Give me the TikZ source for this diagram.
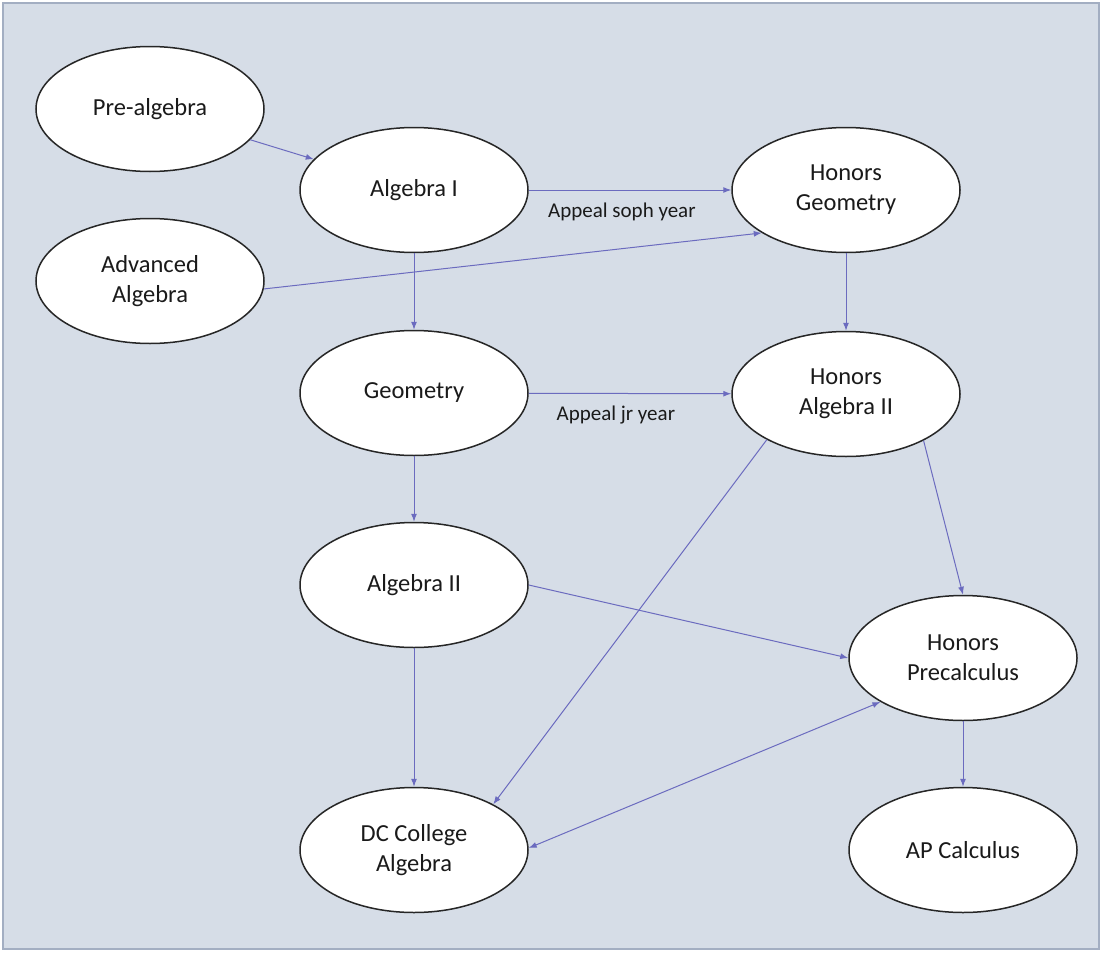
\documentclass[tikz,border=0pt]{standalone}
\usepackage{fontspec}
\setmainfont{Carlito}
\usetikzlibrary{shapes.geometric,arrows.meta}
\definecolor{bgc}{HTML}{D6DDE7}
\definecolor{framec}{HTML}{A3AEC2}
\definecolor{arrowc}{HTML}{6B6BBF}
\definecolor{txtc}{HTML}{1A1A1A}
\begin{document}
\begin{tikzpicture}[x=1pt,y=-1pt,
  course/.style={ellipse,draw=black!85,line width=1.5pt,fill=white,minimum width=228pt,minimum height=125pt,inner sep=0pt,align=center,font=\fontsize{24.5}{30}\selectfont,text=txtc},
  link/.style={draw=arrowc,line width=1pt,-{Latex[length=8pt,width=6pt]}},
  biline/.style={draw=arrowc,line width=1pt,{Latex[length=8pt,width=6pt]}-{Latex[length=8pt,width=6pt]}},
  lbl/.style={font=\fontsize{21}{25}\selectfont,text=txtc}]
\useasboundingbox (0,0) rectangle (1103,953);
\fill[white] (0,0) rectangle (1103,953);
\draw[fill=bgc,draw=framec,line width=2pt] (3,3) rectangle (1099,949);

\node[course] (pre) at (150,109) {Pre-algebra};
\node[course] (alg1) at (414,190) {Algebra I};
\node[course] (hg) at (846,190) {Honors\\Geometry};
\node[course] (adv) at (150,281) {Advanced\\Algebra};
\node[course] (geo) at (414,393) {Geometry};
\node[course] (ha2) at (846,394) {Honors\\Algebra II};
\node[course] (alg2) at (414,585) {Algebra II};
\node[course] (hp) at (963,658) {Honors\\Precalculus};
\node[course] (dc) at (414,850) {DC College\\Algebra};
\node[course] (ap) at (963,850) {AP Calculus};

\draw[link] (pre) -- (alg1);
\draw[link] (alg1) -- (hg) node[lbl,pos=0.46,yshift=-22pt] {Appeal soph year};
\draw[link] (adv.-4.5) -- (hg.207);
\draw[link] (alg1) -- (geo);
\draw[link] (hg) -- (ha2);
\draw[link] (geo) -- (ha2) node[lbl,pos=0.43,yshift=-22pt] {Appeal jr year};
\draw[link] (geo) -- (alg2);
\draw[link] (ha2.210.9) -- (dc.30);
\draw[link] (ha2.-31) -- (hp.north);
\draw[link] (alg2.east) -- (hp.west);
\draw[biline] (hp.208.8) -- (dc.1.5);
\draw[link] (alg2) -- (dc);
\draw[link] (hp) -- (ap);
\end{tikzpicture}
\end{document}
